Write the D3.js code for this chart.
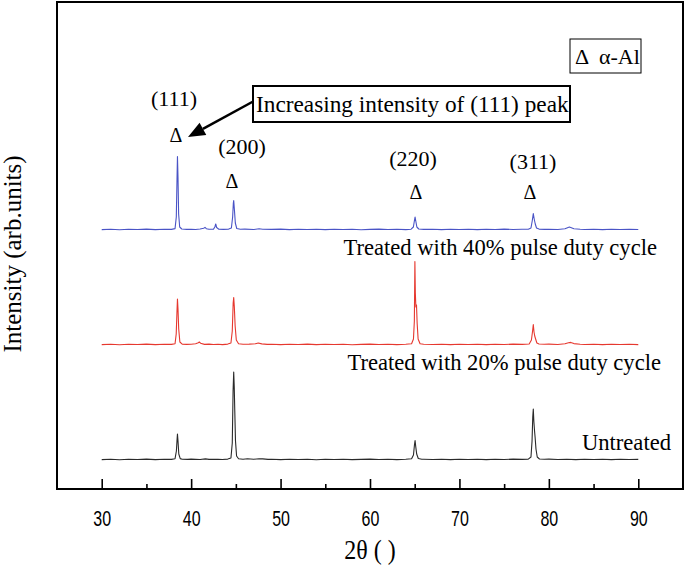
<!DOCTYPE html>
<html>
<head>
<meta charset="utf-8">
<script src="https://cdn.jsdelivr.net/npm/d3@7"></script>
<style>
  html, body { margin: 0; padding: 0; background: #fff; }
  svg { display: block; }
  .serif { font-family: "Liberation Serif", "Times New Roman", serif; fill: #000; }
  .sans { font-family: "Liberation Sans", Arial, sans-serif; fill: #000; }
</style>
</head>
<body>
<svg id="chart" width="685" height="567"></svg>
<script>
// ---------------- DATA ----------------
const xTicksMajor = [30, 40, 50, 60, 70, 80, 90];
const xTicksMinor = [35, 45, 55, 65, 75, 85];
const seriesNames = ["Treated with 40% pulse duty cycle", "Treated with 20% pulse duty cycle", "Untreated"];
const peakLabels = ["(111)", "(200)", "(220)", "(311)"];
const peakPositions = [38.47, 44.76, 65.04, 78.26];

// 2θ (deg), intensity (arb. units, vertically offset)
const treated40 = [
  [30,259.4],[31,259.8],[32,259.3],[33,259.7],[34,259.5],[35,259.9],[36,259.4],[37,259.7],[37.8,259.6],
  [38.2,260.4],[38.34,272],[38.42,310],[38.47,332.5],[38.53,312],[38.6,275],[38.72,262],[38.95,260],
  [39.5,259.6],[40,259.8],[40.5,259.5],[41,260.0],[41.4,260.8],[41.55,261.6],[41.7,260.3],[42,259.7],
  [42.5,259.9],[42.65,262],[42.75,265],[42.85,261.5],[43.1,259.8],[43.6,259.6],[44.2,259.9],
  [44.5,261],[44.64,272],[44.72,286],[44.76,288.5],[44.84,279],[44.94,266],[45.1,260.5],[45.5,259.7],
  [46,259.9],[47,259.5],[47.6,260.2],[48,259.8],[49,259.6],[50,259.9],[51,259.4],[52,259.7],[53,259.5],
  [54,259.8],[55,259.4],[56,259.7],[57,259.5],[58,259.8],[59,259.3],[60,259.6],[61,259.9],[62,259.5],
  [63,259.7],[64,259.4],[64.6,259.8],[64.85,262],[64.96,268],[65.04,272],[65.12,268],[65.24,262],
  [65.45,260],[66,259.6],[67,259.8],[68,259.4],[69,259.7],[70,259.5],[71,259.8],[72,259.4],[73,259.7],
  [74,259.5],[75,259.9],[76,259.5],[77,259.7],[77.7,259.8],[78,261],[78.14,268],[78.26,275.5],
  [78.36,270],[78.48,265],[78.62,261],[78.9,259.9],[79.5,259.6],[80,259.8],[81,259.5],[81.8,260.2],
  [82.3,262],[82.8,260.3],[83.5,259.7],[84,259.5],[85,259.8],[86,259.4],[87,259.7],[88,259.5],[89,259.8],[90,259.5]
];

const treated20 = [
  [30,144.4],[31,144.8],[32,144.3],[33,144.7],[34,144.5],[35,144.9],[36,144.4],[37,144.7],[37.8,144.6],
  [38.2,145.3],[38.33,155],[38.41,176],[38.47,190],[38.53,180],[38.61,160],[38.74,147],[39,144.9],
  [39.5,144.6],[40,144.8],[40.5,145.2],[40.8,146.2],[40.92,147],[41.05,145.8],[41.5,144.6],[42,144.9],
  [42.5,144.5],[43,144.8],[43.5,144.4],[44.1,144.9],[44.45,146],[44.6,158],[44.7,186],[44.76,191.5],
  [44.83,182],[44.92,163],[45.05,149],[45.3,145.2],[45.8,144.7],[46.5,144.9],[47.2,145.3],[47.5,146],
  [47.9,145.1],[48.5,144.6],[49,144.8],[50,144.4],[51,144.7],[52,144.5],[53,144.9],[54,144.4],[55,144.7],
  [56,144.5],[57,144.8],[58,144.3],[59,144.6],[60,144.9],[61,144.5],[62,144.7],[63,144.4],[64,144.8],
  [64.65,145.2],[64.86,150],[64.96,168],[65.02,227.5],[65.07,196],[65.13,182],[65.2,184],[65.27,166],
  [65.38,150],[65.6,145.3],[66,144.8],[67,144.5],[68,144.8],[69,144.4],[70,144.7],[71,144.5],[72,144.8],
  [73,144.4],[74,144.7],[75,144.5],[76,144.9],[77,144.6],[77.8,145],[78.05,149],[78.18,158],[78.26,164.5],
  [78.34,157],[78.42,153],[78.52,150],[78.66,146],[78.9,145],[79.5,144.7],[80,144.9],[81,144.5],
  [81.8,145.2],[82.2,146.3],[82.45,146.6],[82.8,145.4],[83.5,144.7],[84,144.5],[85,144.8],[86,144.4],
  [87,144.7],[88,144.5],[89,144.8],[90,144.4]
];

const untreated = [
  [30,29.4],[31,29.8],[32,29.3],[33,29.7],[34,29.5],[35,29.9],[36,29.4],[37,29.7],[37.8,29.6],
  [38.2,30.3],[38.35,38],[38.43,50],[38.47,55],[38.53,48],[38.62,35],[38.78,30.4],[39,29.8],
  [39.6,29.6],[40,29.9],[41,29.5],[41.6,30.1],[42,29.6],[43,29.8],[43.5,29.5],[44.1,29.9],
  [44.45,31],[44.6,46],[44.69,98],[44.76,117],[44.82,102],[44.88,78],[44.96,48],[45.08,33],[45.3,30.2],
  [45.8,29.8],[46.3,30.2],[47,29.7],[47.6,30.3],[48,30.1],[48.6,29.6],[49,29.8],[50,29.4],[51,29.7],
  [52,29.5],[53,29.8],[54,29.3],[55,29.7],[56,29.5],[57,29.8],[58,29.4],[59,29.6],[60,29.9],[61,29.5],
  [62,29.7],[63,29.4],[64,29.8],[64.65,30.2],[64.86,34],[64.97,44],[65.04,48.5],[65.12,42],[65.22,35],
  [65.4,30.5],[65.8,29.7],[66,29.8],[67,29.5],[68,29.8],[69,29.4],[70,29.7],[71,29.5],[72,29.8],[73,29.4],
  [74,29.7],[75,29.5],[76,29.9],[77,29.6],[77.7,29.9],[78,32],[78.12,48],[78.2,72],[78.26,80],
  [78.32,68],[78.4,58],[78.46,52],[78.56,40],[78.7,32],[78.95,30],[79.5,29.7],[80,29.9],[81,29.5],
  [82,29.8],[83,29.4],[84,29.7],[85,29.5],[86,29.8],[87,29.4],[88,29.7],[89,29.5],[90,29.6]
];

const seriesData = [treated40, treated20, untreated];
const seriesColors = ["#4a54c6", "#e6382f", "#2a2a2a"];

// ---------------- CHART ----------------
const svg = d3.select("#chart");
const plot = { left: 57, top: 2, right: 683, bottom: 489 };

const x = d3.scaleLinear().domain([25, 95]).range([plot.left, plot.right]);
const y = d3.scaleLinear().domain([0, 487]).range([plot.bottom, plot.top]);

const line = d3.line().x(d => x(d[0])).y(d => y(d[1]));

svg.append("g").selectAll("path").data(seriesData).join("path")
  .attr("d", line)
  .attr("fill", "none")
  .attr("stroke", (d, i) => seriesColors[i])
  .attr("stroke-width", 1.1)
  .attr("stroke-linejoin", "round");

// frame
svg.append("rect")
  .attr("x", plot.left).attr("y", plot.top)
  .attr("width", plot.right - plot.left).attr("height", plot.bottom - plot.top)
  .attr("fill", "none").attr("stroke", "#000").attr("stroke-width", 2);

// bottom axis: inward ticks
const axisMajor = d3.axisBottom(x).tickValues(xTicksMajor).tickSize(-10).tickFormat(d3.format("d"));
const gx = svg.append("g").attr("transform", `translate(0,${plot.bottom})`).call(axisMajor);
gx.select(".domain").remove();
gx.selectAll(".tick line").attr("stroke", "#000").attr("stroke-width", 1.6);
gx.selectAll(".tick text")
  .attr("class", "sans")
  .attr("font-size", 16)
  .attr("y", 0).attr("dy", 0)
  .attr("transform", "translate(0,37) scale(1,1.35)");

const axisMinor = d3.axisBottom(x).tickValues(xTicksMinor).tickSize(-5).tickFormat("");
const gm = svg.append("g").attr("transform", `translate(0,${plot.bottom})`).call(axisMinor);
gm.select(".domain").remove();
gm.selectAll(".tick line").attr("stroke", "#000").attr("stroke-width", 1.6);

// axis titles
svg.append("text").attr("class", "serif")
  .attr("transform", "translate(370,559) scale(1,1.12)")
  .attr("text-anchor", "middle")
  .attr("font-size", 24).text("2θ ( )");

svg.append("text").attr("class", "serif")
  .attr("transform", "translate(21,254) rotate(-90)")
  .attr("text-anchor", "middle").attr("font-size", 25)
  .text("Intensity (arb.units)");

// series labels
const seriesLabelPos = [[657, 255], [661, 370], [671, 450]];
svg.append("g").selectAll("text").data(seriesNames).join("text")
  .attr("class", "serif")
  .attr("x", (d, i) => seriesLabelPos[i][0])
  .attr("y", (d, i) => seriesLabelPos[i][1])
  .attr("text-anchor", "end").attr("font-size", 22.6)
  .text(d => d);

// peak labels
const peakLabelPos = [[174, 106], [242, 154], [413, 166], [533, 169]];
const deltaPos = [[176, 142], [232, 188], [416, 199], [530, 199]];
svg.append("g").selectAll("text").data(peakLabels).join("text")
  .attr("class", "serif")
  .attr("x", (d, i) => peakLabelPos[i][0]).attr("y", (d, i) => peakLabelPos[i][1])
  .attr("text-anchor", "middle").attr("font-size", 22).text(d => d);
svg.append("g").selectAll("text").data(peakLabels).join("text")
  .attr("class", "serif")
  .attr("x", (d, i) => deltaPos[i][0]).attr("y", (d, i) => deltaPos[i][1])
  .attr("text-anchor", "middle").attr("font-size", 20).text("Δ");

// legend box
svg.append("rect").attr("x", 570).attr("y", 39).attr("width", 71).attr("height", 34)
  .attr("fill", "#fff").attr("stroke", "#000").attr("stroke-width", 1);
svg.append("text").attr("class", "serif").attr("x", 575).attr("y", 64)
  .attr("font-size", 22).attr("xml:space", "preserve").text("Δ  α-Al");

// annotation with arrow
const tip = [188, 137], start = [254, 101];
const ang = Math.atan2(start[1] - tip[1], start[0] - tip[0]);
const headLen = 17, headW = 7;
const base = [tip[0] + headLen * Math.cos(ang), tip[1] + headLen * Math.sin(ang)];
svg.append("line")
  .attr("x1", start[0]).attr("y1", start[1]).attr("x2", base[0]).attr("y2", base[1])
  .attr("stroke", "#000").attr("stroke-width", 2.5);
svg.append("polygon")
  .attr("points", [
    tip,
    [base[0] + headW * Math.sin(ang), base[1] - headW * Math.cos(ang)],
    [base[0] - headW * Math.sin(ang), base[1] + headW * Math.cos(ang)]
  ].map(p => p.join(",")).join(" "))
  .attr("fill", "#000");
svg.append("rect").attr("x", 253).attr("y", 86).attr("width", 317).attr("height", 36)
  .attr("fill", "#fff").attr("stroke", "#000").attr("stroke-width", 2);
svg.append("text").attr("class", "serif").attr("x", 256).attr("y", 112)
  .attr("font-size", 23.3).text("Increasing intensity of (111) peak");
</script>
</body>
</html>
